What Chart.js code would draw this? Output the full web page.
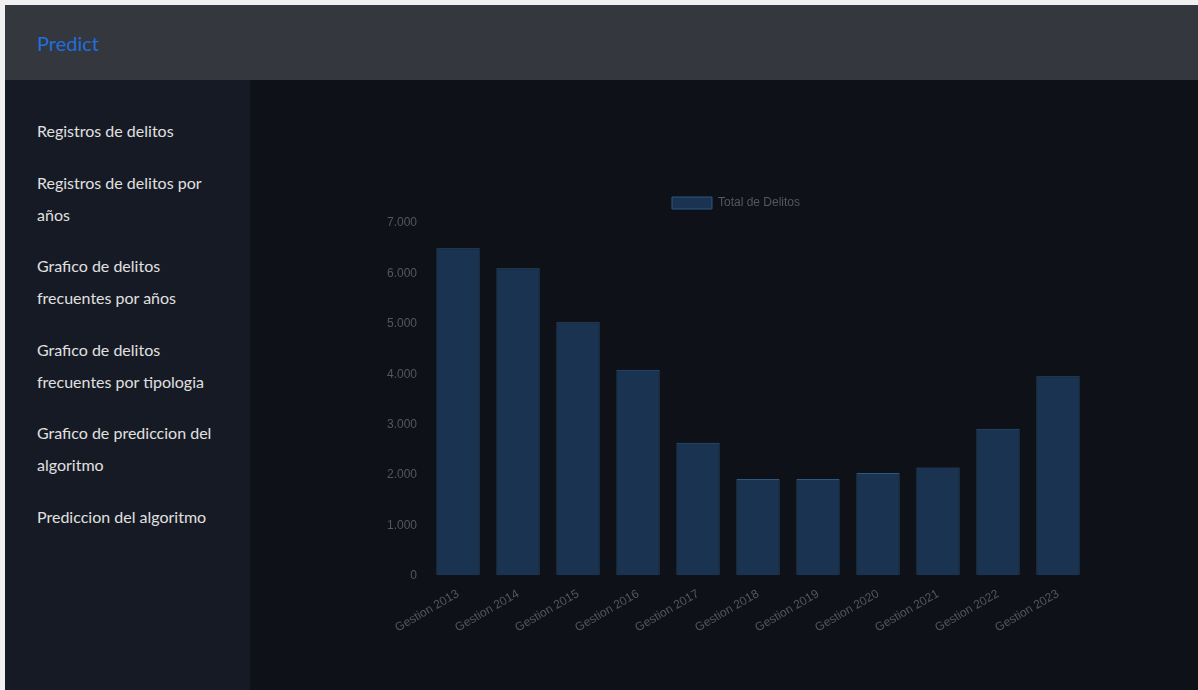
<!DOCTYPE html>
<html>
<head>
<meta charset="utf-8">
<script src="https://cdn.jsdelivr.net/npm/chart.js@4.4.0/dist/chart.umd.min.js"></script>
<style>
  html, body { margin: 0; padding: 0; width: 1198px; height: 690px; overflow: hidden; background: #f0f0f0; }
  #frame { position: absolute; left: 5px; top: 5px; width: 1193px; height: 685px; background: #0f1119; }
  #topbar { position: absolute; left: 0; top: 0; width: 1193px; height: 75px; background: #34373e; }
  #brand { position: absolute; left: 32px; top: 26px; font-family: "Lato", sans-serif; font-size: 20px; color: #1f6fdc; }
  #sidebar { position: absolute; left: 0; top: 75px; width: 245px; height: 610px; background: #161a24; }
  #sidebar ul { list-style: none; margin: 0; padding: 0; position: absolute; left: 32px; top: 35px; }
  #sidebar li { font-family: "Lato", sans-serif; font-size: 16px; line-height: 32px; color: #e0e0e0; margin-bottom: 19.5px; }
  #chartwrap { position: absolute; left: 379px; top: 182px; width: 704px; height: 451px; }
</style>
</head>
<body>
<div id="frame">
  <div id="topbar"><div id="brand">Predict</div></div>
  <div id="sidebar">
    <ul>
      <li>Registros de delitos</li>
      <li>Registros de delitos por<br>años</li>
      <li>Grafico de delitos<br>frecuentes por años</li>
      <li>Grafico de delitos<br>frecuentes por tipologia</li>
      <li>Grafico de prediccion del<br>algoritmo</li>
      <li>Prediccion del algoritmo</li>
    </ul>
  </div>
  <div id="chartwrap"><canvas id="c" width="704" height="451"></canvas></div>
</div>
<script>
const categories = ["Gestion 2013","Gestion 2014","Gestion 2015","Gestion 2016","Gestion 2017","Gestion 2018","Gestion 2019","Gestion 2020","Gestion 2021","Gestion 2022","Gestion 2023"];
const totalDelitos = [6500, 6100, 5030, 4090, 2640, 1920, 1920, 2040, 2150, 2920, 3960];
const seriesLabel = "Total de Delitos";
const yTicks = [0, 1000, 2000, 3000, 4000, 5000, 6000, 7000];

function fmt(v) {
  return String(v).replace(/\B(?=(\d{3})+(?!\d))/g, ".");
}

const legendGap = {
  id: 'legendGap',
  beforeUpdate(chart) {
    const lg = chart.legend;
    if (lg && !lg._gapPatched) {
      const orig = lg.fit;
      lg.fit = function () { orig.call(this); this.height += 4; };
      lg._gapPatched = true;
    }
  }
};

new Chart(document.getElementById('c'), {
  type: 'bar',
  data: {
    labels: categories,
    datasets: [{
      label: seriesLabel,
      data: totalDelitos,
      backgroundColor: '#1a3350',
      borderColor: '#2d5880',
      borderWidth: 1
    }]
  },
  options: {
    responsive: false,
    animation: false,
    plugins: {
      legend: { labels: { color: '#54575e', font: { size: 12 } } },
      tooltip: { enabled: false }
    },
    scales: {
      y: {
        min: 0, max: yTicks[yTicks.length - 1],
        afterBuildTicks: (axis) => { axis.ticks = yTicks.map(v => ({ value: v })); },
        ticks: { color: '#54575e', callback: (v) => fmt(v) },
        grid: { color: 'rgba(0,0,0,0)', drawTicks: true },
        border: { color: 'rgba(0,0,0,0)' }
      },
      x: {
        ticks: { color: '#54575e', minRotation: 30, maxRotation: 30 },
        grid: { color: 'rgba(0,0,0,0)' },
        border: { color: 'rgba(0,0,0,0)' }
      }
    }
  },
  plugins: [legendGap]
});
</script>
</body>
</html>
